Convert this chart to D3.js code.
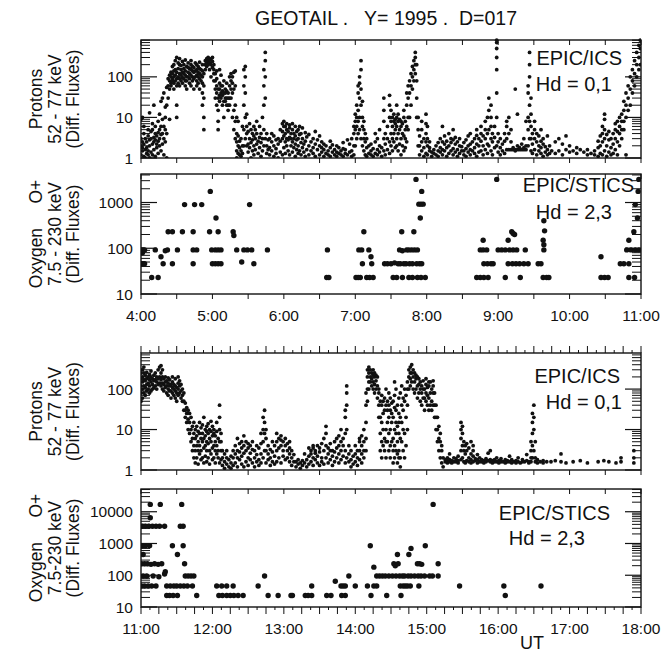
<!DOCTYPE html>
<html>
<head>
<meta charset="utf-8">
<script src="https://cdn.jsdelivr.net/npm/d3@7"></script>
<style>
body { margin: 0; background: #fff; }
text { font-family: "Liberation Sans", Arial, sans-serif; fill: #111; }
</style>
</head>
<body>
<div id="chart"></div>
<script>
// ---- data (hours UT, differential fluxes) ----
// protons: each entry is [hour, [fluxes seen in that sweep]]
var icsEarly = [
  [4.00,[1.2,2,3,9]],[4.02,[1.5,1.8,2.5,10]],[4.04,[1.1,2.2,4,6]],[4.06,[1,1.6,3]],[4.08,[1.3,2.5,1.8]],
  [4.10,[1.2,1.5,3.5,5]],[4.12,[1,2,2.8,13]],[4.14,[1.4,3,4.5]],[4.16,[1.2,2.2,5,7]],[4.18,[1.6,3.2,2.5,20]],
  [4.20,[1.1,2.8,4,6]],[4.22,[1.8,3.5,2.2]],[4.24,[1.3,2.6,4.2,8]],[4.26,[2,3,5,12]],[4.28,[1.5,3.8,6,25]],
  [4.30,[2.2,4,9,30]],[4.32,[1.2,3,6,40]],[4.34,[2.5,5,10,18]],[4.36,[1,4,20,55]],[4.38,[30,60,90]],
  [4.40,[50,80,110,9]],[4.42,[70,100,130,60]],[4.44,[90,120,80,180]],[4.46,[100,140,70,200,50]],[4.48,[80,110,150,250]],
  [4.50,[10,20,60,90,130,300]],[4.52,[70,100,160,220]],[4.54,[60,90,120,200,280]],[4.56,[80,110,150,190]],[4.58,[70,95,130,240]],
  [4.60,[90,120,160,200]],[4.62,[60,80,110,140,260]],[4.64,[50,80,100,180]],[4.66,[100,130,170,220]],[4.68,[70,90,120,160]],
  [4.70,[60,110,150,200,250]],[4.72,[80,100,140,180]],[4.74,[50,90,130,170]],[4.76,[100,140,220]],[4.78,[60,80,110,150,200]],
  [4.80,[70,100,130,180]],[4.82,[50,90,120,160,230]],[4.84,[80,110,150]],[4.86,[20,40,70,100,140,200]],[4.88,[5,10,30,60,120]],
  [4.90,[150,200,250]],[4.92,[180,230,280]],[4.94,[200,250,300]],[4.96,[150,220,280]],[4.98,[100,200,260]],
  [5.00,[170,240,300]],[5.02,[80,120,200,150]],[5.04,[30,50,80,120]],[5.06,[20,40,60,90,140]],[5.08,[5,8,15,30,50]],
  [5.10,[25,35,50,70,150]],[5.12,[30,40,60,110]],[5.14,[20,35,45,60]],[5.16,[10,25,40,80]],[5.18,[25,30,40,50]],
  [5.20,[20,30,45,70]],[5.22,[15,20,30,40]],[5.24,[20,30,60,100]],[5.26,[30,50,80,120]],[5.28,[10,40,70,100]],
  [5.30,[5,15,50,130]],[5.32,[3,8,20,60,140]],[5.34,[1,1.5,2.5,4,10]],[5.36,[1.3,2,3.5,8]],[5.38,[1.2,1.8,2.6]],
  [5.40,[1.1,1.5,3]],[5.42,[1.3,2,6]],[5.44,[2,5,20,60,150]],[5.46,[3,10,40,100,180]],[5.48,[2,4,6,12]],
  [5.50,[1.4,2.2,4.5]],[5.52,[1.8,3,7]],[5.54,[1,2.4,5]],[5.56,[1.5,2.8,4]],[5.58,[1.2,2,3.5,6]],
  [5.60,[1.6,3,5]],[5.62,[2.2,4,8]],[5.64,[1.3,2.6]],[5.66,[1.8,3.2,6]],[5.68,[1.1,2.4,4]],
  [5.70,[1.5,3,10]],[5.72,[2,5,20,60,150]],[5.74,[3,30,100,250,400]],[5.76,[1.3,2,4]],[5.78,[1.6,2.8]],
  [5.80,[1.2,1.8,3]],[5.83,[1.5,2.5,4]],[5.86,[1.1,2,3.5]],[5.89,[1.3,1.7,2.8]],[5.92,[1,2.2,3]],
  [5.95,[1.4,2.6,5]],[5.98,[1.2,3,4.5,7]],[6.00,[1.8,3.5,6,8]],[6.02,[1.3,2.5,4,6]],[6.04,[2,3,5,7]],
  [6.06,[1.5,2.8,4.5]],[6.08,[1.2,3.2,5.5,6.5]],[6.10,[2,4,3]],[6.12,[1.4,2.5,5,7]],[6.14,[1.8,3,4]],
  [6.16,[1.1,2.2,3.5,6]],[6.18,[1.6,2.8,4.5]],[6.20,[1.3,2,3,5]],[6.22,[1.5,3.8,6]],[6.24,[1.2,2.4,4]],
  [6.26,[1.8,3,5.5]],[6.28,[1.4,2.2]],[6.30,[1.1,2.6,4.2]],[6.32,[1.6,3.3]],[6.35,[1.2,2,3.8]],
  [6.38,[1.5,2.5]],[6.41,[1.3,1.8,3]],[6.44,[1.1,2.2,4.5]],[6.47,[1.6,2.8]],[6.50,[1.2,2,3.5]],
  [6.53,[1.4,1.8,2.5]],[6.56,[1.1,1.6,2.2]],[6.59,[1.3,2]],[6.62,[1.2,1.5]],[6.65,[1.1,1.8,2.6]],
  [6.68,[1.4,2.1]],[6.71,[1.2,1.6]],[6.74,[1.1,1.4,2]],[6.77,[1.3,1.8]],[6.80,[1.2,1.5]],
  [6.83,[1.1,1.7,2.4]],[6.86,[1.3,1.6]],[6.89,[1.2,2.8]],[6.92,[1.4,2.2]],[6.95,[1.1,1.5,3]],
  [6.98,[1.2,2,4,6]],[7.00,[2,5,8,12]],[7.02,[3,6,10,20]],[7.04,[4,8,15,40,60]],[7.06,[5,10,30,70,100]],
  [7.08,[3,20,50,150,250]],[7.10,[2,6,10,25]],[7.12,[1.5,3,5,8]],[7.14,[1.2,2.5,4]],[7.16,[1.1,1.8,3]],
  [7.19,[1.3,2]],[7.22,[1.2,1.5,2.2]],[7.25,[1.1,1.7]],[7.28,[1.3,2.5,4]],[7.31,[1.2,1.6,3]],
  [7.34,[1.4,2,5]],[7.37,[1.1,1.8]],[7.40,[1.5,3,8,15,30]],[7.42,[1.2,2.2,4]],[7.45,[1.6,3,6]],
  [7.48,[1.3,2.5,10,20,35]],[7.50,[2,4,8,15]],[7.52,[1.5,3,6,10]],[7.54,[2.5,4,8,12]],[7.56,[1.8,5,7,9]],
  [7.58,[2,3,6,10,20]],[7.60,[1.5,4,8,12]],[7.62,[2.2,5,9]],[7.64,[1.2,3,6,8]],[7.66,[2,4,7]],
  [7.68,[1.5,3.5,10,15]],[7.70,[1.8,3,5,8]],[7.72,[2.5,6,20,40]],[7.74,[5,10,30,60]],[7.76,[10,40,80]],
  [7.78,[20,60,120]],[7.80,[50,100,180]],[7.82,[80,150,250]],[7.84,[120,200,300,400]],[7.86,[10,30,80,200]],
  [7.88,[2,5,10]],[7.90,[1.2,2,3.5]],[7.93,[1.5,2.5,5,8]],[7.96,[1.1,1.8,3]],[7.99,[1.3,2.5,4,7,12]],
  [8.01,[1.2,2,3,6]],[8.04,[1.5,1.8,2.5]],[8.07,[1.1,1.4]],[8.10,[1.3,1.6]],[8.13,[1.2,2]],
  [8.16,[1.1,1.5,2.4]],[8.19,[1.4,1.8,3]],[8.22,[1.2,1.6,2.5,6]],[8.25,[1.5,2.2,3.5]],[8.28,[1.1,1.8,2.6]],
  [8.31,[1.3,2,4]],[8.34,[1.5,2.4,3]],[8.37,[1.2,1.7,2.8,5]],[8.40,[1.4,2.2,3.2]],[8.43,[1.1,1.6,2.5]],
  [8.46,[1.3,2,3]],[8.49,[1.5,1.9]],[8.52,[1.2,1.5,2.4]],[8.55,[1.1,1.7,2.8]],[8.58,[1.4,2,3.5]],
  [8.61,[1.2,1.6,2.2,4]],[8.64,[1.5,2.5]],[8.67,[1.3,1.8,3]],[8.70,[1.1,2.2,3.6,5]],[8.73,[1.4,2,3]],
  [8.76,[1.5,2.6,4,6]],[8.79,[1.2,2,3.5]],[8.82,[1.6,3,5,8]],[8.85,[1.3,2.2,4,10]],[8.87,[2,5,15,30]],
  [8.90,[1.5,3,6,10,20]],[8.92,[1.2,2.5,4]],[8.95,[1.8,3.2,6]],[8.98,[2,10,40,150,300,500,700,800]],[9.00,[1.4,2.5,4]],
  [9.03,[1.2,1.8,3]],[9.06,[1.5,2.2]],[9.09,[1.3,2.6,4]],[9.12,[1.6,3,6,8]],[9.15,[1.6,4,10]],
  [9.18,[1.6,2.5,5]],[9.21,[1.6,1.8]],[9.24,[1.6,1.5,50]],[9.27,[1.6,2,12]],[9.30,[1.6,1.8]],
  [9.33,[1.6,2.2]],[9.36,[1.6,1.8,3]],[9.39,[1.6,2,8]],[9.42,[2,5,10,40,60]],[9.44,[3,8,20,100,200,400]],
  [9.46,[1.5,3,6,12,30]],[9.48,[1.3,2.2,4]],[9.51,[1.6,3,5,8]],[9.54,[1.2,2.5,4]],[9.57,[1.5,2,3.5]],
  [9.60,[1.3,1.8,2.6,5]],[9.63,[1.1,2.2,3]],[9.66,[1.4,1.9]],[9.69,[1.2,1.6,3.5]],[9.72,[1.3,2]],
  [9.75,[1.5]],[9.80,[1.3,2.5]],[9.85,[1.5,3]],[9.90,[1.2,2.2]],[9.95,[1.6,3.5]],
  [10.00,[1.4,2]],[10.05,[1.5]],[10.10,[1.3,1.8]],[10.15,[1.6]],[10.20,[1.4]],
  [10.25,[1.2,1.6]],[10.30,[1.3]],[10.35,[1.5,1.2]],[10.40,[1.1,1.8,2.6]],[10.43,[1.3,2,3.5]],
  [10.46,[1.2,2.5,4,6]],[10.49,[1.5,3,5,9,12]],[10.52,[1.1,2,3.8]],[10.55,[1.4,2.8,4.5]],[10.58,[1.2,1.8,3]],
  [10.61,[1.3,2.2,4]],[10.64,[1.6,3,5,7]],[10.67,[1.2,2.5,4.5,8]],[10.70,[2,4,6,10]],[10.73,[3,5,8,12]],
  [10.76,[5,8,15,25]],[10.79,[1.2,10,20,40]],[10.82,[15,30,60]],[10.85,[20,50,100]],[10.88,[40,80,150]],
  [10.91,[60,120,250]],[10.94,[100,200,400]],[10.97,[150,300,600]],[10.99,[200,500,800]]
];

var icsLate = [
  [11.00,[50,80,120,180,250]],[11.02,[60,100,150,200,300]],[11.04,[80,120,170,250,350]],[11.06,[70,110,160,220]],[11.08,[90,130,180,260]],
  [11.10,[100,140,200]],[11.12,[80,120,170,230]],[11.14,[90,150,200,280]],[11.16,[100,130,180]],[11.18,[110,160,220]],
  [11.20,[120,170,250]],[11.22,[100,150,200]],[11.24,[130,180,300]],[11.26,[140,200,350]],[11.28,[120,170,250,380]],
  [11.30,[100,140,200,300]],[11.32,[90,130,180]],[11.34,[110,150,200]],[11.36,[80,120,160]],[11.38,[70,100,140,190]],
  [11.40,[90,120,170]],[11.42,[60,90,130]],[11.44,[80,110,150,200]],[11.46,[70,100,130]],[11.48,[60,90,120,180]],
  [11.50,[50,80,110]],[11.52,[70,100,140,200]],[11.54,[80,120,160]],[11.56,[60,90,130]],[11.58,[50,70,100]],
  [11.60,[30,50,80]],[11.62,[20,30,45]],[11.64,[15,25,35]],[11.66,[10,18,30]],[11.68,[8,15,25]],
  [11.70,[5,10,20]],[11.72,[3,6,12]],[11.74,[2,4,8,15]],[11.76,[1.5,3,6,10]],[11.78,[2,4,7,12]],
  [11.80,[1.4,3,5,9]],[11.82,[2.5,4,8,15]],[11.84,[1.8,3,6,11]],[11.86,[2,5,8,13]],[11.88,[1.5,3.5,6,20]],
  [11.90,[2.2,4,7,10]],[11.92,[1.6,3,5,9,12]],[11.94,[2,4.5,8,14]],[11.96,[1.4,3,6,10]],[11.98,[2.5,5,9,16]],
  [12.00,[1.8,3.5,7,12]],[12.02,[2,4,8,10]],[12.04,[1.5,3,5,7]],[12.06,[2.5,4,9,15]],[12.08,[2,3,6]],
  [12.10,[1.5,5,10,20,40]],[12.12,[1.8,3,5,8]],[12.14,[1.3,2,3]],[12.17,[1.1,1.6,2.5]],[12.20,[1.4,2,3]],
  [12.23,[1.2,1.8]],[12.26,[1.1,1.5,2.2]],[12.29,[1.3,2,3]],[12.32,[1.5,2.5,4]],[12.35,[1.2,2,3,6]],
  [12.38,[1.8,2.8,4.5]],[12.41,[1.4,2.2,3.5,5]],[12.44,[1.2,2.6,4,7]],[12.47,[1.6,3,5]],[12.50,[1.3,2,3.5,4.5]],
  [12.53,[1.8,2.6,4]],[12.56,[1.5,3.2,5]],[12.59,[1.2,2,3]],[12.62,[1.6,2.4,4]],[12.65,[1.3,1.8,3.5]],
  [12.68,[1.5,2.5,4.5,8]],[12.71,[2,5,10,20]],[12.73,[3,8,15,30]],[12.75,[1.5,3,6,10]],[12.78,[1.8,2.5,4]],
  [12.81,[1.3,2,3.2]],[12.84,[1.6,2.8,5]],[12.87,[1.4,2.2,4]],[12.90,[1.6,3,5,8]],[12.93,[2,3.5,6]],
  [12.96,[1.5,4,5.5,7]],[12.99,[2.2,3,5]],[13.02,[1.8,4,6]],[13.05,[2,3,4.5]],[13.08,[1.6,2.5,3.5,5]],
  [13.11,[1.3,2,3]],[13.14,[1.6,2.4]],[13.17,[1.2,1.6]],[13.20,[1.4,1.8]],[13.23,[1.1,1.5]],
  [13.26,[1.3,1.7]],[13.29,[1.5,2.5]],[13.32,[1.2,1.8]],[13.35,[1.4,2.2,3.5]],[13.38,[1.6,2.5,3]],
  [13.41,[1.3,2,3.5,4]],[13.44,[1.8,2.6,3]],[13.47,[1.5,2.2,4]],[13.50,[1.3,2.8,3.5]],[13.53,[1.6,2,4.5]],
  [13.56,[1.4,3,6]],[13.59,[2,4,8,12]],[13.62,[1.5,2.5,3.5]],[13.65,[1.8,3,4.5]],[13.68,[1.3,2.2,3]],
  [13.71,[1.6,2.8,5]],[13.74,[2,3.5,6]],[13.77,[1.5,2.5,4,7]],[13.80,[1.8,3,5,10]],[13.83,[2.2,4,6]],
  [13.86,[1.5,3,8,20,30]],[13.88,[2,10,40,80,120]],[13.91,[1.6,2.5,4]],[13.94,[1.2,1.8,3]],[13.97,[1.4,2.2]],
  [14.00,[1.6,2.5,4]],[14.03,[1.3,2,3]],[14.06,[1.8,3,5,6]],[14.09,[1.5,2.5,4,7]],[14.12,[2,3,5,10]],
  [14.15,[3,6,15,40,80]],[14.17,[50,100,200,300]],[14.19,[100,150,250,350]],[14.21,[150,200,300]],[14.23,[120,180,250]],
  [14.25,[100,150,220,300]],[14.27,[80,130,200,250]],[14.29,[100,160,220]],[14.31,[60,120,200]],[14.33,[20,40,80,100]],
  [14.35,[3,8,20,50]],[14.37,[2,5,15,40,70]],[14.39,[4,10,25,50]],[14.41,[3,6,30,60]],[14.43,[2,5,10,40,100]],
  [14.45,[5,15,30,50]],[14.47,[3,8,20,40,80]],[14.49,[2,4,10,30,60]],[14.51,[5,15,25,45]],[14.53,[1.5,3,6,20,50]],
  [14.55,[2,4,10,35,70,150]],[14.57,[3,8,15,30,100]],[14.59,[1.5,2.5,5,12,40]],[14.61,[2,3,8,15,25,60]],[14.63,[1.2,2,6,20,80]],
  [14.65,[5,15,40,120]],[14.67,[3,10,30,60]],[14.69,[2,8,50,100]],[14.71,[4,20,70]],[14.73,[10,40,100,150]],
  [14.75,[100,200,300]],[14.77,[120,180,250,350]],[14.79,[150,250,400]],[14.81,[100,200,300]],[14.83,[80,150,250]],
  [14.85,[100,180,220]],[14.87,[60,120,200]],[14.89,[80,130,180]],[14.91,[50,100,150]],[14.93,[40,80,120]],
  [14.95,[60,100,160]],[14.97,[30,60,100]],[14.99,[50,80,130,180]],[15.01,[40,70,110]],[15.03,[30,60,120,150]],
  [15.05,[40,80,150]],[15.07,[30,50,100]],[15.09,[40,80,120,160]],[15.11,[20,40,80]],[15.13,[10,20,40]],
  [15.15,[5,10,20]],[15.17,[3,6,12]],[15.19,[2,5,8]],[15.21,[1.5,3,4]],[15.23,[1.2,2]],
  [15.26,[1.6,1.8]],[15.29,[1.5,1.7,2]],[15.32,[1.6,1.8,2.5]],[15.35,[1.5,1.7]],[15.38,[1.6,2]],
  [15.41,[1.6,1.9]],[15.44,[1.5,1.7,2.2]],[15.48,[1.8,3,6,10,15]],[15.50,[2,4,8,12]],[15.52,[1.6,3,5]],
  [15.54,[1.5,2.5,4]],[15.56,[1.7,3,4.5]],[15.59,[1.6,2,3.5]],[15.62,[1.5,1.8,2.5,5]],[15.65,[1.6,2.2,3,4]],
  [15.68,[1.7,1.9]],[15.71,[1.5,1.8,2.4]],[15.74,[1.6,2]],[15.77,[1.6,1.8]],[15.80,[1.5,1.7]],
  [15.83,[1.6,1.9]],[15.86,[1.7,2.6]],[15.89,[1.6,1.8,3]],[15.92,[1.5,1.7]],[15.95,[1.6,1.8]],
  [15.98,[1.6,2]],[16.01,[1.5,1.7]],[16.04,[1.6,1.9]],[16.07,[1.6]],[16.10,[1.5,1.8]],
  [16.13,[1.6,1.7]],[16.16,[1.6,2.2]],[16.19,[1.5,1.8]],[16.22,[1.6]],[16.25,[1.7,1.5]],
  [16.28,[1.6,2]],[16.31,[1.5]],[16.34,[1.6,1.8]],[16.37,[1.6]],[16.40,[1.7,2.4]],
  [16.43,[1.5,1.6]],[16.46,[1.6,2,3,5]],[16.48,[2,4,8,15,25]],[16.50,[3,10,20,40]],[16.52,[1.6,2,5]],
  [16.55,[1.5,1.8]],[16.59,[1.6]],[16.63,[1.5,1.7]],[16.68,[1.6]],[16.74,[1.6]],
  [16.80,[1.7]],[16.88,[1.6,2.5]],[16.95,[1.5]],[17.05,[1.6]],[17.15,[1.7]],
  [17.25,[1.5]],[17.40,[1.6]],[17.48,[1.7]],[17.55,[1.6]],[17.65,[1.5]],
  [17.72,[1.6,2]],[17.90,[1.5,2,3]]
];

// oxygen: [hour, flux]
var sticsEarly = [
  [4.01,92],[4.03,92],[4.05,92],[4.01,46],[4.03,46],[4.05,46],[4.02,80],
  [4.15,23],[4.24,23],[4.20,92],[4.28,65],[4.31,46],[4.34,88],[4.37,92],
  [4.38,230],[4.44,230],[4.44,46],[4.51,92],[4.58,230],[4.61,900],
  [4.73,230],[4.73,92],[4.78,92],[4.73,46],[4.75,900],[4.85,900],
  [4.97,1750],[4.96,230],[4.99,92],[5.04,92],[5.08,92],[5.12,92],
  [5.00,46],[5.04,46],[5.08,46],[5.12,46],[5.05,460],[5.08,230],
  [5.29,230],[5.30,190],[5.34,92],[5.41,50],[5.44,92],[5.49,92],[5.55,92],[5.52,900],[5.58,46],
  [5.77,92],[6.61,92],[6.60,23],[6.63,23],
  [7.01,23],[7.04,23],[7.07,23],[7.16,23],[7.05,92],[7.09,92],[7.12,230],[7.10,46],[7.19,92],[7.22,65],[7.23,46],[7.20,23],[7.25,23],
  [7.41,46],[7.45,46],[7.50,46],[7.55,48],[7.60,46],[7.63,46],[7.68,46],[7.71,46],[7.76,46],[7.80,46],[7.86,46],[7.90,46],[7.93,46],
  [7.53,23],[7.58,23],[7.66,23],[7.75,23],[7.80,23],[7.87,23],[7.92,23],[7.98,23],
  [7.65,230],[7.62,92],[7.66,88],[7.72,92],[7.75,92],[7.79,92],[7.83,92],[7.87,92],[7.82,230],[7.85,3200],
  [7.89,920],[7.92,920],[7.95,920],[7.93,1750],[7.91,460],
  [8.70,23],[8.75,23],[8.80,23],[8.86,23],[8.75,92],[8.79,92],[8.84,92],[8.79,150],[8.80,46],[8.85,46],[8.90,46],[8.93,46],
  [8.98,3200],[9.00,92],[9.05,92],[9.10,92],[9.16,92],[9.21,92],[9.26,92],[9.14,150],[9.19,230],[9.21,210],[9.23,200],
  [9.14,46],[9.20,46],[9.25,46],[9.30,46],[9.36,46],[9.42,46],[9.10,23],[9.31,23],[9.38,92],
  [9.56,46],[9.60,46],[9.63,23],[9.64,92],[9.64,120],[9.63,150],[9.65,240],[9.64,400],[9.68,23],[9.71,23],
  [10.44,65],[10.44,23],[10.49,23],[10.54,23],[10.71,46],[10.76,46],[10.83,46],[10.83,23],[10.91,23],
  [10.80,92],[10.86,92],[10.92,92],[10.97,92],[10.83,150],[10.90,230],[10.95,460],[10.92,900],[10.97,3200],[10.96,1750]
];

var sticsLate = [
  [11.02,3500],[11.06,3500],[11.11,3500],[11.16,3500],[11.21,3500],[11.26,3500],[11.33,3500],
  [11.13,17000],[11.27,17000],[11.57,17000],[11.13,6500],[11.55,3500],[11.59,3500],
  [11.02,850],[11.06,850],[11.12,850],[11.44,850],[11.59,850],[11.51,450],[11.03,450],
  [11.01,230],[11.05,230],[11.09,230],[11.14,220],[11.19,230],[11.24,220],[11.29,230],[11.61,230],
  [11.34,130],[11.33,110],
  [11.03,95],[11.08,95],[11.17,95],[11.25,90],[11.62,95],[11.66,95],[11.70,95],[11.74,95],
  [11.01,46],[11.05,46],[11.10,46],[11.15,46],[11.21,46],[11.36,46],[11.41,46],[11.46,46],[11.50,46],[11.55,46],[11.60,46],[11.65,46],[11.72,46],
  [11.36,23],[11.40,23],[11.45,23],[11.51,23],[11.78,23],
  [12.06,46],[12.13,46],[12.20,46],[12.29,46],[12.09,23],[12.14,23],[12.20,23],[12.25,23],[12.30,23],[12.36,23],[12.43,23],
  [12.64,46],[12.73,95],[12.78,23],[12.92,23],[13.10,23],[13.12,23],[13.30,23],[13.34,23],[13.39,23],[13.39,46],
  [13.60,23],[13.66,23],[13.72,65],[13.80,46],[13.83,46],[13.86,46],[13.81,23],[13.86,23],[13.91,95],[14.00,46],
  [14.17,46],[14.21,850],[14.22,23],[14.26,46],[14.30,46],[14.26,180],
  [14.30,95],[14.34,95],[14.38,95],[14.42,95],[14.47,95],[14.52,95],[14.57,95],[14.62,95],[14.66,95],[14.69,95],
  [14.44,23],[14.54,230],[14.56,200],[14.60,230],[14.59,450],
  [14.63,46],[14.67,46],[14.70,46],[14.73,46],[14.77,46],[14.64,23],[14.75,450],[14.78,700],
  [14.74,95],[14.78,95],[14.83,95],[14.88,95],[14.92,95],[14.97,95],[15.04,95],[15.08,95],[15.16,95],
  [14.87,230],[14.90,230],[14.93,220],[14.89,46],[14.98,850],[15.09,17000],[15.16,230],
  [15.46,46],[16.08,46],[16.10,23],[16.60,46]
];

var icsTicks = [1, 10, 100];
var sticsTicksEarly = [10, 100, 1000];
var sticsTicksLate = [10, 100, 1000, 10000];
var hoursEarly = ["4:00","5:00","6:00","7:00","8:00","9:00","10:00","11:00"];
var hoursLate = ["11:00","12:00","13:00","14:00","15:00","16:00","17:00","18:00"];

// ---- layout ----
var width = 661, height = 654;
var left = 141, right = 641;

var svg = d3.select("#chart").append("svg")
    .attr("width", width)
    .attr("height", height);

svg.append("text")
    .attr("x", 386).attr("y", 25)
    .attr("text-anchor", "middle")
    .attr("font-size", "19.5px")
    .style("white-space", "pre")
    .text("GEOTAIL .   Y= 1995 .  D=017");

var panels = [
  { id: "p1", h0: 4, top: 40, bottom: 158, dom: [1, 810], ticks: icsTicks, flat: icsEarly, ics: true,
    lab: ["Protons", "52 - 77 keV", "(Diff. Fluxes)"], leg: ["EPIC/ICS", "Hd = 0,1"], legX: [622, 612], legY: [65, 91],
    topTicks: "in30", botTicks: "out30" },
  { id: "p2", h0: 4, top: 174, bottom: 294, dom: [10, 4200], ticks: sticsTicksEarly, pts: sticsEarly,
    lab: ["Oxygen     O+", "7.5 - 230 keV", "(Diff. Fluxes)"], leg: ["EPIC/STICS", "Hd = 2,3"], legX: [634, 612], legY: [192, 219],
    topTicks: "in30", botTicks: "out30", hours: hoursEarly },
  { id: "p3", h0: 11, top: 353, bottom: 470, dom: [1, 780], ticks: icsTicks, flat: icsLate, ics: true,
    lab: ["Protons", "52 - 77 keV", "(Diff. Fluxes)"], leg: ["EPIC/ICS", "Hd = 0,1"], legX: [620, 622], legY: [383, 409],
    topTicks: "out7", botTicks: "out30" },
  { id: "p4", h0: 11, top: 489, bottom: 607, dom: [10, 52000], ticks: sticsTicksLate, pts: sticsLate,
    lab: ["Oxygen     O+", "7.5-230 keV", "(Diff. Fluxes)"], leg: ["EPIC/STICS", "Hd = 2,3"], legX: [610, 585], legY: [520, 545],
    topTicks: "in30", botTicks: "out7", hours: hoursLate }
];

panels.forEach(function(p) {
  var x = d3.scaleLinear().domain([p.h0, p.h0 + 7]).range([left, right]);
  var y = d3.scaleLog().domain(p.dom).range([p.bottom, p.top]);
  var g = svg.append("g");

  // points, flattened from the sweep columns for the proton panels
  var pts = p.pts;
  if (p.flat) {
    pts = [];
    p.flat.forEach(function(c) { c[1].forEach(function(v) { pts.push([c[0], v]); }); });
  }
  g.append("clipPath").attr("id", "clip-" + p.id)
    .append("rect").attr("x", left).attr("y", p.top - 2)
    .attr("width", right - left).attr("height", p.bottom - p.top + 2);
  g.append("g").attr("clip-path", "url(#clip-" + p.id + ")")
    .selectAll("circle")
    .data(pts)
    .enter()
    .append("circle")
    .attr("cx", function(d) { return x(d[0]); })
    .attr("cy", function(d) { return y(d[1]); })
    .attr("r", p.ics ? 1.9 : 2.7)
    .attr("fill", "#111");

  // frame
  g.append("rect")
    .attr("x", left).attr("y", p.top)
    .attr("width", right - left).attr("height", p.bottom - p.top)
    .attr("fill", "none").attr("stroke", "#111").attr("stroke-width", 1.4);

  // log ticks on both sides, pointing inwards
  var lo = Math.log10(p.dom[0]), hi = Math.log10(p.dom[1]);
  var minor = [];
  for (var e = Math.floor(lo); e <= Math.ceil(hi); e++) {
    for (var k = 2; k <= 9; k++) {
      var v = k * Math.pow(10, e);
      if (v > p.dom[0] && v < p.dom[1]) minor.push(v);
    }
  }
  [[left, 1], [right, -1]].forEach(function(s) {
    g.selectAll(null).data(minor).enter().append("line")
      .attr("x1", s[0]).attr("x2", s[0] + s[1] * 9)
      .attr("y1", function(d) { return y(d); }).attr("y2", function(d) { return y(d); })
      .attr("stroke", "#111").attr("stroke-width", 1);
    g.selectAll(null).data(p.ticks).enter().append("line")
      .attr("x1", s[0]).attr("x2", s[0] + s[1] * 16)
      .attr("y1", function(d) { return y(d); }).attr("y2", function(d) { return y(d); })
      .attr("stroke", "#111").attr("stroke-width", 1.2);
  });

  // y tick labels
  g.selectAll(null).data(p.ticks).enter().append("text")
    .attr("x", 133)
    .attr("y", function(d) { return y(d) + 5.5; })
    .attr("text-anchor", "end")
    .attr("font-size", "15.5px")
    .text(function(d) { return d; });

  // time ticks
  function timeTicks(ypos, mode, dir) {
    var step = mode == "out7" ? 0.125 : 0.5;
    var ts = d3.range(p.h0, p.h0 + 7 + 0.001, step);
    g.selectAll(null).data(ts).enter().append("line")
      .attr("x1", function(d) { return x(d); }).attr("x2", function(d) { return x(d); })
      .attr("y1", ypos)
      .attr("y2", function(d, i) {
        var len = 5;
        if (mode == "out7") len = (i % 2 == 0) ? 7 : 3;
        if (mode == "in30") return ypos - dir * len;
        return ypos + dir * len;
      })
      .attr("stroke", "#111").attr("stroke-width", 1);
  }
  timeTicks(p.top, p.topTicks, -1);
  timeTicks(p.bottom, p.botTicks, 1);

  // hour labels under oxygen panels
  if (p.hours) {
    g.selectAll(null).data(p.hours).enter().append("text")
      .attr("x", function(d, i) { return x(p.h0 + i); })
      .attr("y", p.bottom + 27)
      .attr("text-anchor", "middle")
      .attr("font-size", "15.5px")
      .text(function(d) { return d; });
  }

  // axis title, three rotated lines
  var cy = (p.top + p.bottom) / 2;
  p.lab.forEach(function(t, i) {
    g.append("text")
      .attr("transform", "translate(" + (42 + i * 18.5) + "," + cy + ") rotate(-90)")
      .attr("text-anchor", "middle")
      .attr("font-size", "17.5px")
      .style("white-space", "pre")
      .text(t);
  });

  // instrument legend
  p.leg.forEach(function(t, i) {
    g.append("text")
      .attr("x", p.legX[i]).attr("y", p.legY[i])
      .attr("text-anchor", "end")
      .attr("font-size", "20px")
      .text(t);
  });
});

// axis unit, just under and right of the 16:00 label
svg.append("text")
  .attr("x", 520).attr("y", 649)
  .attr("text-anchor", "start")
  .attr("font-size", "18px")
  .text("UT");
</script>
</body>
</html>
